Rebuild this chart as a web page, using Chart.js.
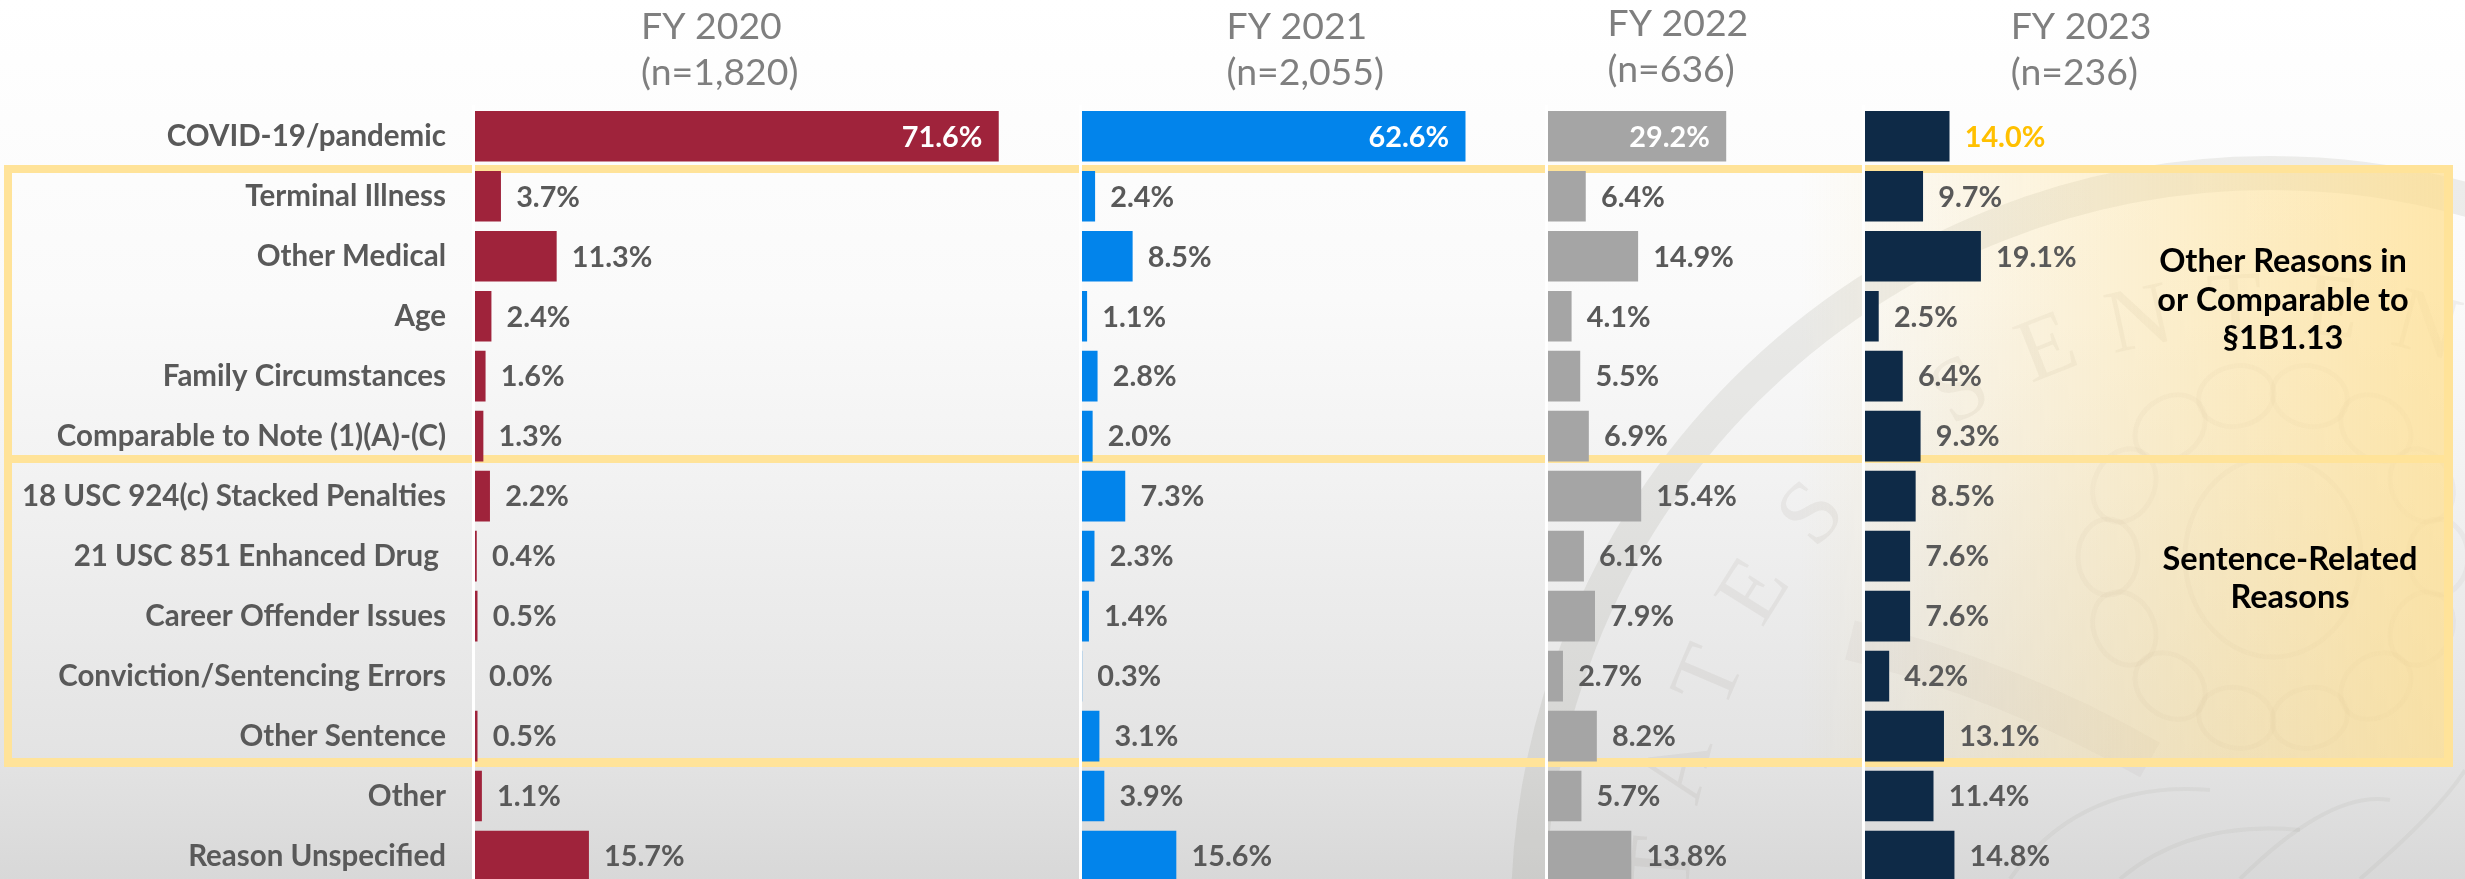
<!DOCTYPE html>
<html>
<head>
<meta charset="utf-8">
<title>Reasons for sentence reductions, FY 2020-2023</title>
<script src="https://cdn.jsdelivr.net/npm/chart.js@4"></script>
<style>
  html, body {
    margin: 0;
    width: 2465px;
    height: 879px;
    overflow: hidden;
  }
  body {
    position: relative;
    background: linear-gradient(#ffffff 0, #fefefe 60px, #fafafa 300px, #f3f3f3 460px, #e3e3e3 760px, #d8d8d8 879px);
  }
  canvas {
    position: absolute;
    top: 0;
  }
</style>
</head>
<body>
<canvas id="backdrop" width="2465" height="879" style="left:0"></canvas>
<canvas id="fy2020"></canvas>
<canvas id="fy2021"></canvas>
<canvas id="fy2022"></canvas>
<canvas id="fy2023"></canvas>

<script>
const categories = [
  "COVID-19/pandemic",
  "Terminal Illness",
  "Other Medical",
  "Age",
  "Family Circumstances",
  "Comparable to Note (1)(A)-(C)",
  "18 USC 924(c) Stacked Penalties",
  "21 USC 851 Enhanced Drug ",
  "Career Offender Issues",
  "Conviction/Sentencing Errors",
  "Other Sentence",
  "Other",
  "Reason Unspecified",
];

const fy2020 = [71.6, 3.7, 11.3, 2.4, 1.6, 1.3, 2.2, 0.4, 0.5, 0.0, 0.5, 1.1, 15.7];
const fy2021 = [62.6, 2.4, 8.5, 1.1, 2.8, 2.0, 7.3, 2.3, 1.4, 0.3, 3.1, 3.9, 15.6];
const fy2022 = [29.2, 6.4, 14.9, 4.1, 5.5, 6.9, 15.4, 6.1, 7.9, 2.7, 8.2, 5.7, 13.8];
const fy2023 = [14.0, 9.7, 19.1, 2.5, 6.4, 9.3, 8.5, 7.6, 7.6, 4.2, 13.1, 11.4, 14.8];

const sealLetters = "UNITED STATES SENTENCING COMMISSION";

const GREY_TEXT = "#595959";
const VALUE_FONT = "700 28.8px Lato";
const HEADER_FONT = "400 37.4px Lato";

// left = x of the white axis line (zero), perPct = pixels per percentage point
const panels = [
  { id: "fy2020", values: fy2020, color: "#9f233b", header: ["FY 2020", "(n=1,820)"], left: 473.5, perPct: 7.33, max: 80, headX: 641, headY: 27, firstColor: "#ffffff" },
  { id: "fy2021", values: fy2021, color: "#0284eb", header: ["FY 2021", "(n=2,055)"], left: 1079.5, perPct: 6.15, max: 72, headX: 1226, headY: 27, firstColor: "#ffffff" },
  { id: "fy2022", values: fy2022, color: "#a5a5a5", header: ["FY 2022", "(n=636)"], left: 1545.5, perPct: 6.15, max: 50, headX: 1607, headY: 24, firstColor: "#ffffff" },
  { id: "fy2023", values: fy2023, color: "#0e2a47", header: ["FY 2023", "(n=236)"], left: 1863.3, perPct: 6.15, max: 96, headX: 2011, headY: 27, firstColor: "#ffc000" },
];

const CANVAS_H = 886;
const PLOT_TOP = 106.3;

function drawBackdrop() {
  const ctx = document.getElementById("backdrop").getContext("2d");

  // faint seal behind everything
  const cx = 2270, cy = 915;
  ctx.save();
  ctx.strokeStyle = "rgba(110,105,90,0.11)";
  ctx.lineWidth = 34;
  ctx.beginPath();
  ctx.arc(cx, cy, 742, 0, Math.PI * 2);
  ctx.stroke();

  ctx.fillStyle = "rgba(110,105,90,0.08)";
  ctx.font = "90px 'Liberation Serif'";
  ctx.textAlign = "center";
  ctx.textBaseline = "middle";
  const step = 9.1;
  const start = -67 - step * 10;
  [...sealLetters].forEach((ch, i) => {
    const a = ((start + step * i) * Math.PI) / 180;
    ctx.save();
    ctx.translate(cx + 606 * Math.sin(a), cy - 606 * Math.cos(a));
    ctx.rotate(a);
    ctx.fillText(ch, 0, 0);
    ctx.restore();
  });

  // wreath around the shield
  ctx.strokeStyle = "rgba(110,105,90,0.05)";
  ctx.lineWidth = 5;
  const shieldX = 2273, shieldY = 557;
  for (let i = 0; i < 14; i++) {
    const a = (i / 14) * Math.PI * 2;
    ctx.save();
    ctx.translate(shieldX + 165 * Math.cos(a), shieldY + 165 * Math.sin(a));
    ctx.rotate(a);
    ctx.beginPath();
    ctx.ellipse(0, 0, 30, 38, 0, 0, Math.PI * 2);
    ctx.stroke();
    ctx.restore();
  }
  ctx.beginPath();
  ctx.ellipse(shieldX, shieldY, 88, 100, 0, 0, Math.PI * 2);
  ctx.stroke();

  // banner under the wreath and a few feather outlines
  ctx.lineWidth = 40;
  ctx.strokeStyle = "rgba(110,105,90,0.05)";
  ctx.beginPath();
  ctx.moveTo(1850, 640);
  ctx.quadraticCurveTo(2010, 680, 2150, 760);
  ctx.stroke();
  ctx.lineWidth = 4;
  ctx.strokeStyle = "rgba(110,105,90,0.06)";
  [[2010, 879, 2080, 780, 2210, 790], [2240, 879, 2330, 790, 2390, 800], [2360, 879, 2440, 810, 2465, 770], [2120, 879, 2190, 820, 2300, 830]].forEach((p) => {
    ctx.beginPath();
    ctx.moveTo(p[0], p[1]);
    ctx.quadraticCurveTo(p[2], p[3], p[4], p[5]);
    ctx.stroke();
  });
  ctx.restore();

  // yellow boxes around the two groups of reasons
  const fade = ctx.createLinearGradient(1800, 0, 2445, 0);
  fade.addColorStop(0, "rgba(255,222,140,0)");
  fade.addColorStop(1, "rgba(255,222,140,0.72)");
  ctx.fillStyle = fade;
  ctx.fillRect(12, 173, 2432, 585);

  ctx.fillStyle = "#ffe399";
  ctx.fillRect(4, 165, 2449, 8);
  ctx.fillRect(4, 455, 2449, 8);
  ctx.fillRect(4, 758, 2449, 9);
  ctx.fillRect(4, 165, 8, 602);
  ctx.fillRect(2444, 165, 9, 602);

  ctx.fillStyle = "#000000";
  ctx.font = "700 32.5px Lato";
  ctx.textAlign = "center";
  ctx.textBaseline = "middle";
  ctx.fillText("Other Reasons in", 2283, 262);
  ctx.fillText("or Comparable to", 2283, 301);
  ctx.fillText("§1B1.13", 2283, 339);
  ctx.fillText("Sentence-Related", 2290, 560);
  ctx.fillText("Reasons", 2290, 598);
}

// percentage labels at the bar ends, and the year header over each panel
const panelText = {
  id: "panelText",
  afterDatasetsDraw(chart, args, opts) {
    const { ctx } = chart;
    const meta = chart.getDatasetMeta(0);
    ctx.save();
    ctx.font = VALUE_FONT;
    ctx.textBaseline = "middle";
    meta.data.forEach((bar, i) => {
      const v = opts.panel.values[i];
      const inside = v > 20;
      ctx.textAlign = inside ? "right" : "left";
      ctx.fillStyle = i === 0 ? opts.panel.firstColor : GREY_TEXT;
      ctx.fillText(v.toFixed(1) + "%", bar.x + (inside ? -16 : 15.5), bar.y + 1);
    });

    ctx.font = HEADER_FONT;
    ctx.textAlign = "left";
    ctx.fillStyle = "#7f7f7f";
    const canvasLeft = parseFloat(chart.canvas.style.left);
    opts.panel.header.forEach((line, i) => {
      ctx.fillText(line, opts.panel.headX - canvasLeft, opts.panel.headY + i * 45.5);
    });
    ctx.restore();
  },
};

drawBackdrop();

panels.forEach((panel, n) => {
  const canvas = document.getElementById(panel.id);
  const axisWidth = n === 0 ? panel.left : 4;
  const plotWidth = panel.perPct * panel.max;
  const canvasLeft = panel.left - axisWidth;

  canvas.width = Math.ceil(axisWidth + plotWidth);
  canvas.height = CANVAS_H;
  canvas.style.left = canvasLeft + "px";

  new Chart(canvas.getContext("2d"), {
    type: "bar",
    data: {
      labels: categories,
      datasets: [
        {
          data: panel.values,
          backgroundColor: panel.color,
          barThickness: 50,
        },
      ],
    },
    options: {
      indexAxis: "y",
      responsive: false,
      animation: false,
      layout: { padding: { top: PLOT_TOP, bottom: 0, left: 0, right: 0 } },
      scales: {
        x: { display: false, min: 0, max: panel.max },
        y: {
          grid: { display: false, drawTicks: false },
          // the white line sits on top of the bars
          border: { display: true, color: "#ffffff", width: 3, z: 1 },
          ticks: {
            display: n === 0,
            autoSkip: false,
            padding: 27.5,
            color: GREY_TEXT,
            font: { family: "Lato", size: 29.5, weight: "700" },
          },
          afterFit(scale) {
            scale.width = axisWidth;
            // tick padding would otherwise shrink the plot height
            scale.paddingTop = 0;
            scale.paddingBottom = 0;
          },
        },
      },
      plugins: {
        legend: { display: false },
        tooltip: { enabled: false },
        title: { display: false },
        panelText: { panel },
      },
    },
    plugins: [panelText],
  });
});
</script>
</body>
</html>
